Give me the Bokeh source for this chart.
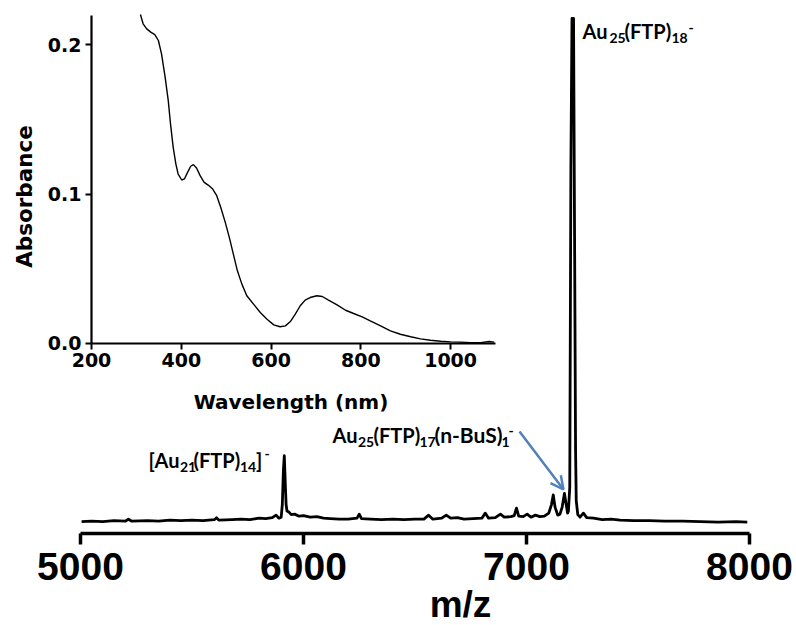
import math
from bokeh.plotting import figure
from bokeh.models import (Range1d, FixedTicker, Label, Arrow, OpenHead, LinearAxis)
from bokeh.embed import file_html
from bokeh.resources import INLINE

# ---------------- data: mass spectrum ----------------
mz = [5005, 5050, 5100, 5150, 5200, 5215, 5230, 5300, 5350, 5400, 5450, 5500,
      5550, 5600, 5610, 5620, 5680, 5720, 5760, 5800, 5830, 5860, 5877, 5890,
      5900, 5905, 5910, 5914, 5918, 5922, 5926, 5935, 5945, 5960, 5980, 6000,
      6030, 6060, 6090, 6120, 6160, 6200, 6240, 6250, 6260, 6300, 6350, 6400,
      6450, 6500, 6540, 6561, 6580, 6620, 6640, 6660, 6690, 6720, 6760, 6800,
      6815, 6830, 6860, 6883, 6900, 6930, 6945, 6955, 6965, 6985, 7003, 7020,
      7040, 7060, 7080, 7100, 7112, 7120, 7128, 7140, 7150, 7160, 7170, 7178,
      7184, 7188, 7194, 7199, 7204, 7211, 7220, 7223, 7230, 7240, 7255, 7270,
      7300, 7340, 7380, 7420, 7480, 7550, 7620, 7700, 7780, 7860, 7940, 7990]
intensity = [0.1, 0.2, 0.1, 0.3, 0.2, 0.6, 0.2, 0.3, 0.2, 0.4, 0.3, 0.4,
             0.3, 0.5, 0.9, 0.4, 0.5, 0.6, 0.5, 0.8, 0.7, 0.9, 1.4, 0.8,
             1.0, 3.5, 10.5, 13.2, 8.0, 3.5, 2.2, 2.0, 1.5, 1.6, 1.2, 1.3,
             1.0, 1.1, 0.8, 0.7, 0.6, 0.6, 0.8, 1.6, 0.7, 0.6, 0.5, 0.6,
             0.5, 0.6, 0.6, 1.4, 0.6, 0.8, 1.4, 0.8, 0.9, 0.6, 0.7, 0.8,
             1.8, 0.8, 0.9, 1.6, 1.0, 1.1, 1.3, 2.8, 1.2, 1.1, 1.6, 1.0,
             1.4, 1.1, 1.2, 1.8, 3.5, 5.4, 3.0, 1.4, 1.6, 3.0, 5.7, 3.5,
             1.8, 2.2, 6.9, 70.0, 100.0, 100.0, 14.6, 4.3, 1.5, 1.0, 1.8, 0.9,
             0.8, 0.5, 0.6, 0.4, 0.3, 0.3, 0.2, 0.2, 0.1, 0.0, 0.1, 0.0]
mz_ticks = [5000, 6000, 7000, 8000]

# ---------------- data: UV-vis inset ----------------
wavelength = [309, 315, 323, 332, 341, 349, 356, 364, 371, 376, 382, 388, 393,
              401, 407, 414, 421, 427, 434, 442, 451, 460, 470, 479, 488, 498,
              507, 516, 525, 535, 546, 561, 576, 591, 606, 620, 632, 643, 654,
              665, 676, 687, 702, 714, 728, 747, 766, 784, 803, 821, 844, 866,
              888, 911, 933, 955, 978, 1000, 1022, 1045, 1067, 1086, 1097]
absorbance = [0.2203, 0.2141, 0.2107, 0.2085, 0.2069, 0.2029, 0.1939, 0.1783,
              0.1626, 0.1470, 0.1313, 0.1201, 0.1134, 0.1094, 0.1101, 0.1145,
              0.1186, 0.1197, 0.1174, 0.1123, 0.1078, 0.1060, 0.1033, 0.0989,
              0.0910, 0.0810, 0.0709, 0.0597, 0.0485, 0.0396, 0.0318, 0.0262,
              0.0206, 0.0161, 0.0123, 0.0110, 0.0116, 0.0145, 0.0195, 0.0251,
              0.0289, 0.0306, 0.0318, 0.0313, 0.0289, 0.0257, 0.0221, 0.0199,
              0.0177, 0.0150, 0.0116, 0.0083, 0.0060, 0.0043, 0.0029, 0.0020,
              0.0013, 0.0009, 0.0007, 0.0004, 0.0004, 0.0011, 0.0007]
wl_ticks = [200, 400, 600, 800, 1000]
abs_ticks = [0.0, 0.1, 0.2]
abs_tick_labels = ["0.0", "0.1", "0.2"]

# ---------------- geometry (pixels) ----------------
W, H = 796, 625


def span(v0, p0, v1, p1, size):
    """Range whose ends map the canvas edges, given two value->pixel anchors."""
    k = (v1 - v0) / (p1 - p0)
    return v0 - p0 * k, v0 + (size - p0) * k


# main: m/z 5000 -> 80 px, 8000 -> 749 px ; intensity 0 -> 521.7 px, 100 -> 18 px
XS, XE = span(5000, 80, 8000, 749, W)
YS, YE = span(0, H - 521.7, 100, H - 18, H)
# inset: 200 nm -> 91 px, 1100 nm -> 495 px ; 0 -> 342.7 px, 0.22 -> 14.5 px
WS, WE = span(200, 91, 1100, 495, W)
AS, AE = span(0, H - 342.7, 0.22, H - 14.5, H)

p = figure(width=W, height=H, output_backend="svg", toolbar_location=None,
           x_range=Range1d(XS, XE), y_range=Range1d(YS, YE),
           x_axis_location=None, y_axis_location=None, min_border=0)
p.grid.visible = False
p.outline_line_color = None
p.background_fill_color = "white"
p.border_fill_color = "white"
p.extra_x_ranges = {"wl": Range1d(WS, WE)}
p.extra_y_ranges = {"ab": Range1d(AS, AE)}

# ----- spectrum -----
p.line(mz, intensity, line_color="black", line_width=2.8, line_join="round")

base_loc = -(533 - 521.7) * (YE - YS) / H
ax = LinearAxis(fixed_location=base_loc, bounds=(5000, 8000),
                ticker=FixedTicker(ticks=mz_ticks))
ax.axis_line_width = 3.5
ax.axis_line_color = "black"
ax.major_tick_line_width = 3.5
ax.major_tick_line_color = "black"
ax.major_tick_out = 11
ax.major_tick_in = 0
ax.minor_tick_out = 0
ax.minor_tick_in = 0
ax.major_label_text_font = "Liberation Sans"
ax.major_label_text_font_style = "bold"
ax.major_label_text_font_size = "39px"
ax.major_label_text_color = "black"
ax.major_label_standoff = 8
p.add_layout(ax, "below")

# ----- inset -----
p.line(wavelength, absorbance, line_color="black", line_width=1.4,
       x_range_name="wl", y_range_name="ab")

ix = LinearAxis(x_range_name="wl", y_range_name="ab", fixed_location=0.0,
                bounds=(200, 1100), ticker=FixedTicker(ticks=wl_ticks))
iy = LinearAxis(x_range_name="wl", y_range_name="ab", fixed_location=200,
                bounds=(0, 0.22), ticker=FixedTicker(ticks=abs_ticks))
iy.major_label_overrides = {t: s for t, s in zip(abs_ticks, abs_tick_labels)}
for a in (ix, iy):
    a.axis_line_width = 2.2
    a.axis_line_color = "black"
    a.major_tick_line_width = 2
    a.major_tick_line_color = "black"
    a.major_tick_out = 6
    a.major_tick_in = 0
    a.minor_tick_out = 0
    a.minor_tick_in = 0
    a.major_label_text_font = "DejaVu Sans"
    a.major_label_text_font_style = "bold"
    a.major_label_text_font_size = "19px"
    a.major_label_text_color = "black"
ix.major_label_standoff = 4
iy.major_label_standoff = 4
p.add_layout(ix, "below")
p.add_layout(iy, "left")


def sx(px):
    return XS + px * (XE - XS) / W


def sy(py):
    return YE - py * (YE - YS) / H


# empirical shift (fraction of font size) between wanted and rendered baseline
SHIFT = {"Lato": 0.42, "DejaVu Sans": 0.30, "Liberation Sans": 0.36}


def put(text, px, py, size, font="Lato", align="left", angle=0.0):
    d = SHIFT[font] * size
    if angle:
        px -= d
    else:
        py -= d
    p.add_layout(Label(x=sx(px), y=sy(py), text=text, text_font=font,
                       text_font_style="bold", text_font_size=f"{size}px",
                       text_align=align, text_baseline="alphabetic", angle=angle,
                       text_color="black"))


put("Absorbance", 30, 196, 21.5, font="DejaVu Sans", align="center", angle=math.pi / 2)
put("Wavelength (nm)", 290.5, 407, 20, font="DejaVu Sans", align="center")
put("m/z", 460, 617, 37, font="Liberation Sans", align="center")

MAIN, SUB = 20, 14
# Au25(FTP)18-
put("Au", 582, 39, MAIN)
put("25", 609, 43, SUB)
put("(FTP)", 624, 39, MAIN)
put("18", 671, 43, SUB)
put("-", 688, 33, SUB)
# [Au21(FTP)14]-
put("[", 148, 468, MAIN)
put("Au", 154, 468, MAIN)
put("21", 179.5, 472, SUB)
put("(FTP)", 193, 468, MAIN)
put("14", 239.5, 472, SUB)
put("]", 255.5, 468, MAIN)
put("-", 264, 459, SUB)
# Au25(FTP)17(n-BuS)1-
put("Au", 332, 443, MAIN)
put("25", 357.5, 447, SUB)
put("(FTP)", 373, 443, MAIN)
put("17", 419, 447, SUB)
put("(n-BuS)", 434, 443, 21)
put("1", 501, 447, SUB)
put("-", 508, 436, SUB)

p.add_layout(Arrow(x_start=sx(519), y_start=sy(431), x_end=sx(563), y_end=sy(489),
                   line_color="#4f81bd", line_width=2.5,
                   end=OpenHead(size=13, line_color="#4f81bd", line_width=2.5)))

open("out.html", "w").write(file_html(p, INLINE))
